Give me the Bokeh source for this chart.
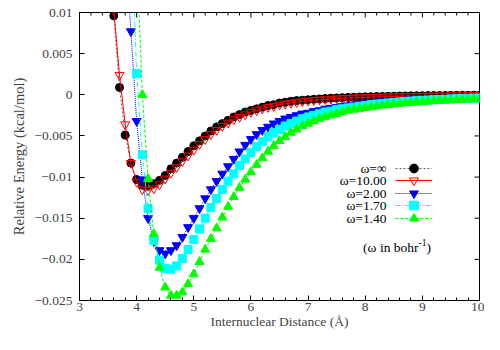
from bokeh.plotting import figure
from bokeh.models import (Range1d, LinearAxis, SingleIntervalTicker, FixedTicker,
                          Legend, LegendItem, Label)
from bokeh.embed import file_html
from bokeh.resources import INLINE

# ---------------- data ----------------
r_grid = [3.6, 3.7, 3.8, 3.9, 4.0, 4.1, 4.2, 4.3, 4.4, 4.5, 4.6, 4.7, 4.8, 4.9,
          5.0, 5.1, 5.2, 5.3, 5.4, 5.5, 5.6, 5.7, 5.8, 5.9, 6.0, 6.1, 6.2, 6.3,
          6.4, 6.5, 6.6, 6.7, 6.8, 6.9, 7.0, 7.1, 7.2, 7.3, 7.4, 7.5, 7.6, 7.7,
          7.8, 7.9, 8.0, 8.1, 8.2, 8.3, 8.4, 8.5, 8.6, 8.7, 8.8, 8.9, 9.0, 9.1,
          9.2, 9.3, 9.4, 9.5, 9.6, 9.7, 9.8, 9.9, 10.0]

# omega = infinity (3.6 .. 10.0)
e_inf = [0.0096, 0.0009, -0.0049, -0.0083, -0.0103,
         -0.0110, -0.0111, -0.0108, -0.0104, -0.0098, -0.0090, -0.0083, -0.0076, -0.0069, -0.0062,
         -0.0056, -0.0050, -0.0044, -0.0039, -0.0035, -0.0031, -0.0027, -0.0024, -0.0021, -0.0019,
         -0.0017, -0.0015, -0.0013, -0.0012, -0.0010, -0.0009, -0.0008, -0.0007, -0.00065, -0.0006,
         -0.00055, -0.0005, -0.00045, -0.00041, -0.00038, -0.00035, -0.00032, -0.0003, -0.00027, -0.00025,
         -0.00023, -0.00021, -0.0002, -0.00018, -0.00017, -0.00015, -0.00014, -0.00013, -0.00012, -0.00011,
         -0.0001, -0.00009, -0.00009, -0.00008, -0.00007, -0.00007, -0.00006, -0.00006, -0.00005, -0.00005]

# omega = 10.00 (3.6 .. 10.0)
e_10 = [0.0103, 0.0024, -0.0036, -0.0083, -0.0106,
        -0.0115, -0.0116, -0.0114, -0.0109, -0.0102, -0.0095, -0.0088, -0.0081, -0.0074, -0.0067,
        -0.0060, -0.0054, -0.0048, -0.0043, -0.0038, -0.0034, -0.0030, -0.0027, -0.0024, -0.0021,
        -0.0019, -0.0017, -0.0015, -0.0014, -0.0012, -0.0011, -0.0010, -0.0009, -0.0008, -0.00072,
        -0.00066, -0.0006, -0.00055, -0.0005, -0.00046, -0.00042, -0.00039, -0.00036, -0.00033, -0.0003,
        -0.00028, -0.00026, -0.00024, -0.00022, -0.0002, -0.00019, -0.00017, -0.00016, -0.00015, -0.00014,
        -0.00013, -0.00012, -0.00011, -0.0001, -0.00009, -0.00009, -0.00008, -0.00007, -0.00007, -0.00006]

# omega = 2.00 (3.8 .. 10.0)
e_200 = [0.019, 0.0077, -0.0032,
         -0.0103, -0.0150, -0.0178, -0.0189, -0.0193, -0.0189, -0.0183, -0.0173, -0.0161, -0.0150,
         -0.0138, -0.0126, -0.0115, -0.0105, -0.0096, -0.0087, -0.0078, -0.0069, -0.0061, -0.0054,
         -0.0048, -0.0043, -0.0039, -0.0035, -0.0032, -0.0029, -0.0027, -0.0025, -0.0023, -0.0022,
         -0.0020, -0.0019, -0.0017, -0.0016, -0.0015, -0.0014, -0.0013, -0.0012, -0.0011, -0.0010,
         -0.00093, -0.00087, -0.00081, -0.00076, -0.00071, -0.00066, -0.00062, -0.00058, -0.00054, -0.00051,
         -0.00048, -0.00045, -0.00042, -0.0004, -0.00037, -0.00035, -0.00033, -0.00031, -0.0003, -0.00028]

# omega = 1.70 (3.9 .. 10.0)
e_170 = [0.021, 0.0026,
         -0.0073, -0.0138, -0.0177, -0.0201, -0.0211, -0.0212, -0.0208, -0.0199, -0.0188, -0.0176,
         -0.0163, -0.0150, -0.0137, -0.0126, -0.0115, -0.0105, -0.0096, -0.0086, -0.0078, -0.0070,
         -0.0063, -0.0057, -0.0051, -0.0046, -0.0042, -0.0038, -0.0035, -0.0032, -0.0029, -0.0027,
         -0.0025, -0.0023, -0.0021, -0.0020, -0.0018, -0.0017, -0.0016, -0.0015, -0.0014, -0.0013,
         -0.0012, -0.00113, -0.00106, -0.00099, -0.00093, -0.00087, -0.00082, -0.00077, -0.00072, -0.00068,
         -0.00064, -0.0006, -0.00057, -0.00054, -0.00051, -0.00048, -0.00046, -0.00043, -0.00041, -0.00039]

# omega = 1.40 (4.0 .. 10.0)
e_140 = [0.017,
         0.0000, -0.0102, -0.0169, -0.0210, -0.0234, -0.0244, -0.0244, -0.0240, -0.0230, -0.0218,
         -0.0203, -0.0188, -0.0175, -0.0162, -0.0149, -0.0136, -0.0124, -0.0113, -0.0103, -0.0094,
         -0.0085, -0.0077, -0.0069, -0.0062, -0.0056, -0.0051, -0.0046, -0.0042, -0.0038, -0.0035,
         -0.0032, -0.0029, -0.0027, -0.0025, -0.0023, -0.0021, -0.0019, -0.0018, -0.0017, -0.0016,
         -0.0015, -0.0014, -0.0013, -0.00122, -0.00115, -0.00108, -0.00101, -0.00095, -0.0009, -0.00085,
         -0.0008, -0.00076, -0.00072, -0.00068, -0.00065, -0.00062, -0.00059, -0.00056, -0.00053, -0.0005]

series_labels = ["ω=∞", "ω=10.00", "ω=2.00", "ω=1.70", "ω=1.40"]
series_values = [e_inf, e_10, e_200, e_170, e_140]

x_ticks = [3, 4, 5, 6, 7, 8, 9, 10]
y_ticks = [0.01, 0.005, 0, -0.005, -0.01, -0.015, -0.02, -0.025]
y_tick_labels = ["0.01", "0.005", "0", "\u22120.005", "\u22120.01", "\u22120.015", "\u22120.02", "\u22120.025"]

# ---------------- styles / layout ----------------
FONT = "Liberation Serif"
FS = "13.5px"
FRAME_W, FRAME_H = 400, 288
X_MIN, X_MAX = 3, 10
Y_MIN, Y_MAX = -0.025, 0.01
MAJOR_LEN, MINOR_LEN = 5, 3

styles = [
    dict(color="black", dash="2 2", alpha=0.6, marker="circle", size=8, fill="black"),
    dict(color="red", dash="solid", alpha=1.0, marker="inverted_triangle", size=9, fill=None),
    dict(color="blue", dash="1 1", alpha=1.0, marker="inverted_triangle", size=9, fill="blue"),
    dict(color="cyan", dash="5 2 1 2", alpha=1.0, marker="square", size=8, fill="cyan"),
    dict(color="lime", dash="3 2", alpha=1.0, marker="triangle", size=9, fill="lime"),
]

p = figure(frame_width=FRAME_W, frame_height=FRAME_H,
           x_range=Range1d(X_MIN, X_MAX), y_range=Range1d(Y_MIN, Y_MAX),
           output_backend="svg", toolbar_location=None,
           min_border_left=79, min_border_right=5, min_border_top=12, min_border_bottom=34,
           x_axis_type=None, y_axis_type=None)
p.xgrid.visible = False
p.ygrid.visible = False
p.outline_line_color = "black"
p.outline_line_width = 1
p.background_fill_color = "white"
p.border_fill_color = "white"

xax = LinearAxis(ticker=SingleIntervalTicker(interval=1, num_minor_ticks=5))
xax.major_tick_in = MAJOR_LEN
xax.major_tick_out = 0
xax.minor_tick_in = MINOR_LEN
xax.minor_tick_out = 0
xax.axis_line_color = "black"
xax.major_tick_line_color = "black"
xax.minor_tick_line_color = "black"
xax.major_label_text_font = FONT
xax.major_label_text_font_size = FS
xax.major_label_standoff = 2
xax.axis_label = "Internuclear Distance (Å)"
xax.axis_label_text_font = FONT
xax.axis_label_text_font_size = FS
xax.axis_label_text_font_style = "normal"
xax.axis_label_standoff = 0
p.add_layout(xax, "below")

yax = LinearAxis(ticker=FixedTicker(ticks=y_ticks))
yax.major_tick_in = MAJOR_LEN
yax.major_tick_out = 0
yax.minor_tick_line_color = None
yax.axis_line_color = "black"
yax.major_tick_line_color = "black"
yax.major_label_overrides = dict(zip(y_ticks, y_tick_labels))
yax.major_label_text_font = FONT
yax.major_label_text_font_size = FS
yax.major_label_standoff = 7
yax.axis_label = "Relative Energy (kcal/mol)"
yax.axis_label_text_font = FONT
yax.axis_label_text_font_size = "14.5px"
yax.axis_label_text_font_style = "normal"
yax.axis_label_standoff = 5
p.add_layout(yax, "left")

# mirrored ticks on the top and right borders (gnuplot style)
ypp = (Y_MAX - Y_MIN) / FRAME_H
xpp = (X_MAX - X_MIN) / FRAME_W
x_minor = [t + 0.2 * k for t in x_ticks[:-1] for k in range(1, 5)]
p.segment(x0=x_ticks, y0=[Y_MAX] * len(x_ticks), x1=x_ticks,
          y1=[Y_MAX - MAJOR_LEN * ypp] * len(x_ticks), line_color="black", line_width=1)
p.segment(x0=x_minor, y0=[Y_MAX] * len(x_minor), x1=x_minor,
          y1=[Y_MAX - MINOR_LEN * ypp] * len(x_minor), line_color="black", line_width=1)
p.segment(x0=[X_MAX] * len(y_ticks), y0=y_ticks, x1=[X_MAX - MAJOR_LEN * xpp] * len(y_ticks),
          y1=y_ticks, line_color="black", line_width=1)

renderers = []
for vals, st in zip(series_values, styles):
    xs = r_grid[-len(vals):]
    ln = p.line(xs, vals, line_color=st["color"], line_dash=st["dash"],
                line_width=1, line_alpha=st["alpha"])
    sc = p.scatter(xs, vals, marker=st["marker"], size=st["size"],
                   line_color=st["color"], fill_color=st["fill"], line_width=1)
    renderers.append((ln, sc))

# ---------------- legend (gnuplot style: text left, sample right) ----------------
row_top_center = 132.5   # px above frame bottom for first row centre
row_step = 12.5
sample_left = 316
text_right = 307
for i, (lab, (ln, sc)) in enumerate(zip(series_labels, renderers)):
    cy = row_top_center - i * row_step
    leg = Legend(items=[LegendItem(label=" ", renderers=[ln, sc])],
                 location=(sample_left, cy - 11),
                 glyph_width=37, glyph_height=22, label_height=22, label_width=0,
                 label_standoff=0, padding=0, margin=0, spacing=0,
                 border_line_color=None, background_fill_alpha=0,
                 label_text_font_size="1px")
    p.add_layout(leg)
    p.add_layout(Label(x=text_right, y=cy, x_units="screen", y_units="screen",
                       text=lab, text_align="right", text_baseline="middle",
                       text_font=FONT, text_font_size=FS, text_color="black"))

note_y = 53
p.add_layout(Label(x=339, y=note_y, x_units="screen", y_units="screen",
                   text="(ω in bohr", text_align="right", text_baseline="middle",
                   text_font=FONT, text_font_size=FS, text_color="black"))
p.add_layout(Label(x=339, y=note_y + 5, x_units="screen", y_units="screen",
                   text="-1", text_align="left", text_baseline="middle",
                   text_font=FONT, text_font_size="9.5px", text_color="black"))
p.add_layout(Label(x=347, y=note_y, x_units="screen", y_units="screen",
                   text=")", text_align="left", text_baseline="middle",
                   text_font=FONT, text_font_size=FS, text_color="black"))

open("out.html", "w").write(file_html(p, INLINE))
